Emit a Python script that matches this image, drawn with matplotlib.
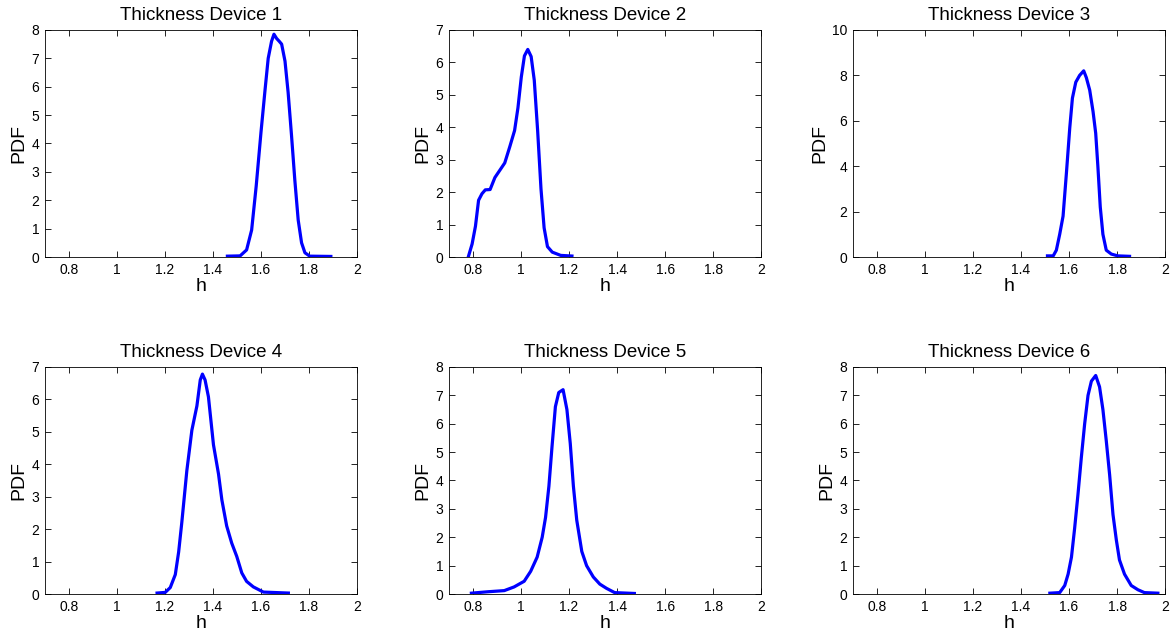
import matplotlib
matplotlib.use("Agg")
import matplotlib.pyplot as plt

plt.rcParams['font.family'] = ['Liberation Sans', 'DejaVu Sans']

# --- data (h, PDF) ---
titles = ['Thickness Device 1', 'Thickness Device 2', 'Thickness Device 3',
          'Thickness Device 4', 'Thickness Device 5', 'Thickness Device 6']

h1 = [1.460, 1.513, 1.540, 1.561, 1.580, 1.600, 1.617, 1.630, 1.644, 1.654,
      1.665, 1.676, 1.686, 1.700, 1.713, 1.727, 1.741, 1.755, 1.769, 1.783,
      1.803, 1.891]
p1 = [0.03, 0.04, 0.25, 0.95, 2.5, 4.4, 5.9, 7.0, 7.6, 7.85,
      7.7, 7.6, 7.5, 6.9, 5.8, 4.3, 2.7, 1.3, 0.5, 0.15,
      0.03, 0.02]

h2 = [0.780, 0.796, 0.810, 0.823, 0.837, 0.851, 0.871, 0.891, 0.912, 0.932,
      0.953, 0.973, 0.987, 1.001, 1.014, 1.028, 1.042, 1.055, 1.069, 1.083,
      1.096, 1.110, 1.130, 1.165, 1.212]
p2 = [0.0, 0.4, 0.95, 1.75, 1.95, 2.07, 2.08, 2.45, 2.68, 2.9,
      3.4, 3.9, 4.6, 5.55, 6.2, 6.4, 6.18, 5.45, 3.9, 2.1,
      0.9, 0.32, 0.15, 0.05, 0.03]

h3 = [1.510, 1.534, 1.547, 1.561, 1.575, 1.589, 1.603, 1.614, 1.628, 1.644,
      1.661, 1.672, 1.686, 1.700, 1.711, 1.720, 1.730, 1.741, 1.755, 1.776,
      1.803, 1.852]
p3 = [0.05, 0.05, 0.3, 1.0, 1.8, 3.7, 5.7, 7.0, 7.7, 8.0,
      8.2, 7.9, 7.35, 6.4, 5.45, 4.0, 2.2, 1.0, 0.3, 0.13,
      0.05, 0.03]

h4 = [1.167, 1.201, 1.222, 1.243, 1.257, 1.270, 1.291, 1.312, 1.333, 1.347,
      1.356, 1.367, 1.381, 1.402, 1.423, 1.437, 1.457, 1.478, 1.499, 1.520,
      1.540, 1.568, 1.610, 1.714]
p4 = [0.03, 0.05, 0.2, 0.6, 1.3, 2.2, 3.8, 5.05, 5.8, 6.6,
      6.78, 6.6, 6.08, 4.6, 3.7, 2.9, 2.1, 1.57, 1.16, 0.65,
      0.39, 0.22, 0.06, 0.03]

h5 = [0.793, 0.862, 0.930, 0.971, 1.013, 1.040, 1.067, 1.088, 1.102, 1.116,
      1.129, 1.143, 1.157, 1.175, 1.191, 1.205, 1.218, 1.232, 1.253, 1.273,
      1.301, 1.328, 1.356, 1.390, 1.472]
p5 = [0.03, 0.08, 0.12, 0.25, 0.45, 0.8, 1.3, 2.0, 2.7, 3.8,
      5.2, 6.6, 7.1, 7.2, 6.5, 5.3, 3.8, 2.6, 1.5, 1.0,
      0.6, 0.35, 0.2, 0.05, 0.02]

h6 = [1.520, 1.561, 1.582, 1.596, 1.610, 1.623, 1.637, 1.651, 1.665, 1.679,
      1.693, 1.711, 1.727, 1.741, 1.755, 1.769, 1.783, 1.797, 1.810, 1.831,
      1.859, 1.887, 1.914, 1.970]
p6 = [0.03, 0.05, 0.3, 0.7, 1.3, 2.3, 3.5, 4.8, 6.0, 7.0,
      7.5, 7.7, 7.3, 6.5, 5.4, 4.2, 2.8, 1.9, 1.2, 0.7,
      0.3, 0.15, 0.05, 0.03]

ymaxes = [8, 7, 10, 7, 8, 8]
xticks = [0.8, 1, 1.2, 1.4, 1.6, 1.8, 2]
xticklabels = ['0.8', '1', '1.2', '1.4', '1.6', '1.8', '2']

hs = [h1, h2, h3, h4, h5, h6]
ps = [p1, p2, p3, p4, p5, p6]

fig = plt.figure(figsize=(11.74, 6.36), dpi=100)

lefts = [0.0383, 0.3825, 0.7266]
bottoms = [0.5959, 0.066]
w, hgt = 0.2658, 0.357

for i in range(6):
    r, c = divmod(i, 3)
    ax = fig.add_axes([lefts[c], bottoms[r], w, hgt])
    ax.plot(hs[i], ps[i], color='#0000ff', linewidth=2.3)
    ax.set_xlim(0.7, 2)
    ax.set_ylim(0, ymaxes[i])
    ax.set_xticks(xticks)
    ax.set_xticklabels(xticklabels)
    if ymaxes[i] == 10:
        ax.set_yticks(range(0, 11, 2))
    else:
        ax.set_yticks(range(0, ymaxes[i] + 1))
    ax.tick_params(direction='in', top=True, right=True, length=4,
                   width=0.6, labelsize=10, pad=4)
    for s in ax.spines.values():
        s.set_linewidth(0.6)
    ax.set_title(titles[i], fontsize=13.5, pad=7)
    ax.set_xlabel('h', fontsize=14, labelpad=1)
    ax.set_ylabel('PDF', fontsize=14, labelpad=3)

fig.savefig('out.png', dpi=100)
